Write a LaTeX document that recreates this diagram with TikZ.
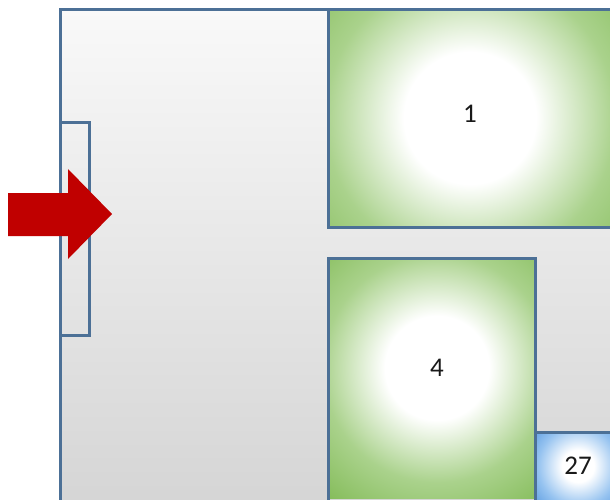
\documentclass[tikz,border=0pt]{standalone}
\usepackage{fontspec}
\setmainfont{Carlito}
\definecolor{edgeblue}{RGB}{76,112,150}
\definecolor{gtop}{RGB}{249,249,249}
\definecolor{gbot}{RGB}{212,212,212}
\definecolor{grnmid}{RGB}{170,210,140}
\definecolor{grn}{RGB}{122,182,76}
\definecolor{grndark}{RGB}{110,170,62}
\definecolor{blumid}{RGB}{150,195,240}
\definecolor{blu}{RGB}{75,145,220}
\definecolor{arrowred}{RGB}{192,0,0}
\pgfdeclareradialshading{greenrad}{\pgfpoint{0bp}{0bp}}{color(0bp)=(white); color(10bp)=(white); color(22bp)=(grnmid); color(36bp)=(grn); color(50bp)=(grndark)}
\pgfdeclareradialshading{bluerad}{\pgfpoint{0bp}{0bp}}{color(0bp)=(white); color(8bp)=(white); color(20bp)=(blumid); color(32bp)=(blu); color(50bp)=(blu)}
\tikzset{
  boxedge/.style={draw=edgeblue, line width=3pt},
  lbl/.style={font=\fontsize{27}{30}\selectfont, text=black!90, inner sep=0pt},
}
\begin{document}
\begin{tikzpicture}[x=1pt,y=-1pt]
\useasboundingbox (0,0) rectangle (610,499);
\fill[white] (0,0) rectangle (610,499);
\clip (0,0) rectangle (610,499);
% big gray panel
\shade[top color=gtop, bottom color=gbot] (60,9) rectangle (630,520);
\draw[boxedge] (60,9) rectangle (630,520);
% box 1
\begin{scope}
  \clip (328,9) rectangle (612,227);
  \shade[shading=greenrad] (305,-47) rectangle (635,283);
\end{scope}
\draw[boxedge] (328,9) rectangle (612,227);
% box 4
\begin{scope}
  \clip (328,258) rectangle (535,530);
  \shade[shading=greenrad] (307,238) rectangle (567,498);
\end{scope}
\draw[boxedge] (328,258) rectangle (535,530);
% box 27
\begin{scope}
  \clip (535,432) rectangle (650,530);
  \shade[shading=bluerad] (528,416) rectangle (628,516);
\end{scope}
\draw[boxedge] (535,432) rectangle (650,530);
% slot
\draw[boxedge] (60,122) rectangle (89,335);
% arrow
\fill[arrowred] (8,193) -- (68,193) -- (68,169) -- (112,214) -- (68,259) -- (68,236) -- (8,236) -- cycle;
% labels
\node[lbl] (t1) at (470,114) {1};
\node[lbl] (t4) at (437,368) {4};
\node[lbl] (t27) at (578,466) {27};
\end{tikzpicture}
\end{document}
